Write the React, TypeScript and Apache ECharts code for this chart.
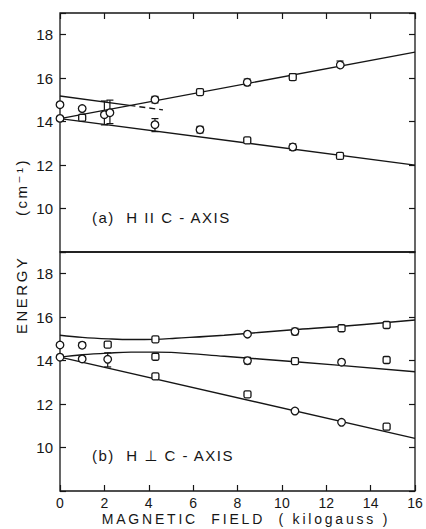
import React, { useEffect, useRef } from "react";
import * as echarts from "echarts";

const INK = "#161616";
const FONT = "Liberation Sans, DejaVu Sans";

// axis ranges and tick labels
const fieldRange = [0, 16];
const energyRange = [8, 19];
const energyTickLabels = [10, 12, 14, 16, 18];

// panel (a) H || C-axis : fitted lines
const aUpperLine = [[0, 14.14], [16, 17.2]];
const aLowerLine = [[0, 14.14], [16, 12.0]];
const aCrossSolid = [[0, 15.18], [3.13, 14.75]];
const aCrossDashed = [[3.13, 14.75], [4.64, 14.54]];

// panel (a) measured points: [field, energy, errDown, errUp, shape (0 circle, 1 square)]
const aPoints = [
  [0, 14.78, 0, 0, 0],
  [0, 14.15, 0, 0, 0],
  [1.0, 14.6, 0, 0, 0],
  [1.0, 14.18, 0, 0, 1],
  [2.0, 14.32, 0.47, 0.63, 0],
  [2.25, 14.41, 0.5, 0.58, 0],
  [4.28, 15.01, 0.15, 0.15, 0],
  [4.28, 13.86, 0.32, 0.28, 0],
  [6.31, 15.36, 0.1, 0.1, 1],
  [6.31, 13.63, 0.15, 0.15, 0],
  [8.44, 15.81, 0.15, 0.15, 0],
  [8.44, 13.14, 0.08, 0.08, 1],
  [10.49, 16.05, 0.15, 0.15, 1],
  [10.49, 12.83, 0.15, 0.15, 0],
  [12.62, 16.67, 0.12, 0.12, 0],
  [12.62, 12.42, 0.05, 0.05, 1],
];

// panel (b) H ⊥ C-axis : fitted curves
const bTopCurve = [[0, 15.17], [1, 15.07], [2.2, 15.0], [3.2, 14.97], [4.3, 14.98], [5.2, 15.03], [7.4, 15.17], [10.5, 15.42], [12.6, 15.57], [16, 15.87]];
const bMidCurve = [[0, 14.16], [1, 14.27], [2.2, 14.35], [3.2, 14.39], [4.3, 14.39], [5.2, 14.37], [7.4, 14.2], [10.6, 13.95], [16, 13.49]];
const bLowLine = [[0, 14.16], [16, 10.42]];

// panel (b) measured points
const bPoints = [
  [0, 14.72, 0.08, 0.08, 0],
  [0, 14.16, 0, 0, 0],
  [1.0, 14.71, 0.12, 0.12, 0],
  [1.0, 14.08, 0, 0, 0],
  [2.15, 14.74, 0.1, 0.1, 1],
  [2.15, 14.06, 0.35, 0.3, 0],
  [4.3, 14.98, 0, 0, 1],
  [4.3, 14.18, 0.1, 0.1, 1],
  [4.3, 13.28, 0.1, 0.1, 1],
  [8.45, 15.22, 0, 0, 0],
  [8.45, 14.0, 0.15, 0.15, 0],
  [8.45, 12.45, 0, 0, 1],
  [10.59, 15.34, 0.15, 0.15, 0],
  [10.59, 13.98, 0, 0, 1],
  [10.59, 11.68, 0, 0, 0],
  [12.69, 15.49, 0, 0, 1],
  [12.69, 13.93, 0, 0, 0],
  [12.69, 11.16, 0, 0, 0],
  [14.72, 15.64, 0, 0, 1],
  [14.72, 14.03, 0.08, 0.08, 1],
  [14.72, 10.96, 0, 0, 1],
];

const xTitle = "MAGNETIC  FIELD  ( kilogauss )";
const yTitle = "ENERGY      (cm⁻¹)";
const aLabel = "(a)  H II C - AXIS";
const bLabel = "(b)  H ⊥ C - AXIS";

const renderPoint = (_params: any, api: any) => {
  const x = api.value(0);
  const y = api.value(1);
  const dn = api.value(2);
  const up = api.value(3);
  const shape = api.value(4);
  const c = api.coord([x, y]);
  const st = { stroke: INK, lineWidth: 1.2 };
  const children: any[] = [];
  if (dn > 0 || up > 0) {
    const lo = api.coord([x, y - dn]);
    const hi = api.coord([x, y + up]);
    children.push({ type: "line", shape: { x1: c[0], y1: lo[1], x2: c[0], y2: hi[1] }, style: st });
    children.push({ type: "line", shape: { x1: c[0] - 3.5, y1: lo[1], x2: c[0] + 3.5, y2: lo[1] }, style: st });
    children.push({ type: "line", shape: { x1: c[0] - 3.5, y1: hi[1], x2: c[0] + 3.5, y2: hi[1] }, style: st });
  }
  if (shape === 1) {
    children.push({
      type: "rect",
      shape: { x: c[0] - 3.5, y: c[1] - 3.5, width: 7, height: 7, r: 1.5 },
      style: { fill: "#fff", stroke: INK, lineWidth: 1.3 },
    });
  } else {
    children.push({
      type: "circle",
      shape: { cx: c[0], cy: c[1], r: 3.8 },
      style: { fill: "#fff", stroke: INK, lineWidth: 1.3 },
    });
  }
  return { type: "group", children };
};

const lineSeries = (data: number[][], idx: number, opts: any = {}) => ({
  type: "line",
  xAxisIndex: idx,
  yAxisIndex: idx * 2,
  data,
  showSymbol: false,
  symbol: "none",
  smooth: opts.smooth ?? false,
  lineStyle: { color: INK, width: 1.4, type: opts.dashed ? [6, 4] : "solid" },
  z: 3,
  silent: true,
});

const labelFmt = (v: number) => (energyTickLabels.includes(v) ? String(v) : "");

export default function App() {
  const ref = useRef<HTMLDivElement>(null);
  useEffect(() => {
    document.body.style.margin = "0";
    const el = ref.current!;
    const chart = echarts.init(el, undefined, { renderer: "svg" });
    const grids = [
      { left: 60, top: 13, width: 355, height: 239 },
      { left: 60, top: 252, width: 355, height: 239 },
    ].map((g) => ({ ...g, show: true, borderColor: INK, borderWidth: 1.3, backgroundColor: "transparent" }));

    const tick = { inside: true, length: 6, lineStyle: { color: INK, width: 1.2 } };
    const xAxes = [0, 1].map((i) => ({
      type: "value",
      gridIndex: i,
      min: fieldRange[0],
      max: fieldRange[1],
      interval: 2,
      position: i === 0 ? "top" : "bottom",
      axisLine: { show: false },
      axisTick: tick,
      splitLine: { show: false },
      axisLabel: {
        show: i === 1,
        color: INK,
        fontFamily: FONT,
        fontSize: 14,
        margin: 5,
      },
    }));
    const yAxes: any[] = [];
    [0, 1].forEach((i) => {
      ["left", "right"].forEach((pos) => {
        yAxes.push({
          type: "value",
          gridIndex: i,
          min: energyRange[0],
          max: energyRange[1],
          interval: 2,
          position: pos,
          axisLine: { show: false },
          axisTick: tick,
          splitLine: { show: false },
          axisLabel: {
            show: pos === "left",
            formatter: labelFmt,
            color: INK,
            fontFamily: FONT,
            fontSize: 15,
            margin: 7,
          },
        });
      });
    });

    const textStyle = { fill: INK, fontFamily: FONT, fontSize: 15 };

    chart.setOption({
      animation: false,
      backgroundColor: "#fff",
      grid: grids,
      xAxis: xAxes,
      yAxis: yAxes,
      series: [
        lineSeries(aUpperLine, 0),
        lineSeries(aLowerLine, 0),
        lineSeries(aCrossSolid, 0),
        lineSeries(aCrossDashed, 0, { dashed: true }),
        lineSeries(bTopCurve, 1, { smooth: 0.4 }),
        lineSeries(bMidCurve, 1, { smooth: 0.4 }),
        lineSeries(bLowLine, 1),
        {
          type: "custom",
          xAxisIndex: 0,
          yAxisIndex: 0,
          data: aPoints,
          encode: { x: 0, y: 1 },
          renderItem: renderPoint,
          z: 5,
          silent: true,
        },
        {
          type: "custom",
          xAxisIndex: 1,
          yAxisIndex: 2,
          data: bPoints,
          encode: { x: 0, y: 1 },
          renderItem: renderPoint,
          z: 5,
          silent: true,
        },
      ],
      graphic: [
        {
          type: "text",
          x: 92,
          y: 217,
          style: { ...textStyle, text: aLabel, verticalAlign: "middle", align: "left" },
        },
        {
          type: "text",
          x: 92,
          y: 455,
          style: { ...textStyle, text: bLabel, verticalAlign: "middle", align: "left" },
        },
        {
          type: "text",
          x: 246,
          y: 519,
          style: { ...textStyle, fontSize: 14, text: xTitle, verticalAlign: "middle", align: "center" },
        },
        {
          type: "text",
          x: 21,
          y: 246,
          rotation: Math.PI / 2,
          style: { ...textStyle, text: yTitle, align: "center", verticalAlign: "middle" },
        },
      ],
    });

    const spacing = () => {
      el.querySelectorAll("text").forEach((t) => {
        const s = t.textContent || "";
        if (s === xTitle) (t as any).style.letterSpacing = "2.8px";
        else if (s === aLabel || s === bLabel) (t as any).style.letterSpacing = "1.5px";
        else if (s === yTitle) (t as any).style.letterSpacing = "2.5px";
      });
    };
    spacing();
    chart.on("rendered", spacing);
    return () => chart.dispose();
  }, []);
  return <div ref={ref} style={{ width: 426, height: 529 }} />;
}
